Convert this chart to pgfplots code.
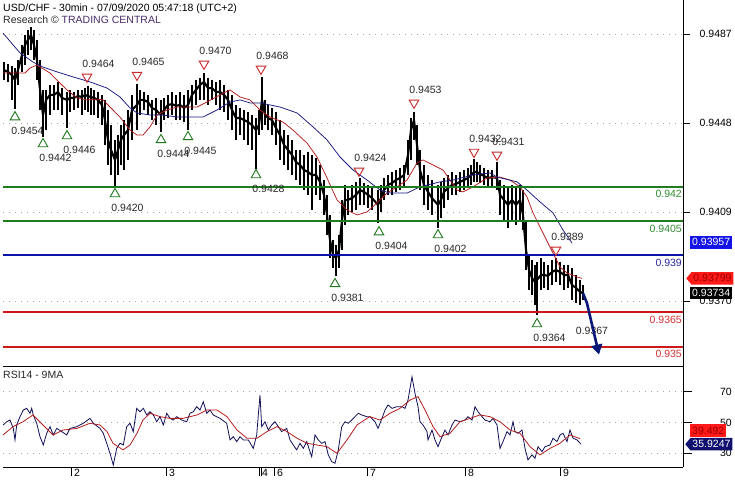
\documentclass[border=0pt]{standalone}
\usepackage{pgfplots}
\pgfplotsset{compat=1.18}
\usepackage{pgfplotstable}
\usepackage{fontspec}
\setmainfont{Liberation Sans}
\usetikzlibrary{shapes.symbols,arrows.meta}
\definecolor{lvgreen}{RGB}{30,125,30}
\definecolor{lvblue}{RGB}{10,20,170}
\definecolor{lvred}{RGB}{205,25,25}
\definecolor{lvgreentxt}{RGB}{50,140,50}
\definecolor{lvbluetxt}{RGB}{40,40,160}
\definecolor{lvredtxt}{RGB}{210,50,50}
\definecolor{manavy}{RGB}{25,25,130}
\definecolor{mared}{RGB}{180,30,30}
\definecolor{rsinavy}{RGB}{15,15,90}
\definecolor{lbl}{RGB}{40,40,40}
\definecolor{tcpurple}{RGB}{75,45,105}
\definecolor{arrownavy}{RGB}{10,25,120}
\definecolor{boxblue}{RGB}{20,20,230}
\definecolor{boxred}{RGB}{255,25,25}
\definecolor{boxredtxt}{RGB}{150,0,0}
\definecolor{boxnavy}{RGB}{15,15,110}
\definecolor{triG}{RGB}{30,120,30}
\definecolor{triR}{RGB}{200,40,40}
\newcommand\lf{\fontsize{10.5}{12}\selectfont}

% price bars: x (position), low, high, close
\pgfplotstableread{
x lo hi c
4 0.94668 0.94747 0.94712
8 0.94660 0.94739 0.94704
12 0.94581 0.94730 0.94690
15 0.94540 0.94721 0.94668
18 0.94647 0.94756 0.94712
22 0.94704 0.94822 0.94778
25 0.94734 0.94866 0.94822
28 0.94778 0.94888 0.94844
31 0.94800 0.94901 0.94866
34 0.94756 0.94888 0.94822
37 0.94668 0.94844 0.94756
40 0.94537 0.94756 0.94625
43 0.94420 0.94625 0.94515
46 0.94449 0.94625 0.94581
50 0.94515 0.94647 0.94603
54 0.94537 0.94647 0.94603
58 0.94537 0.94660 0.94616
62 0.94515 0.94633 0.94590
67 0.94460 0.94616 0.94581
70 0.94528 0.94625 0.94590
74 0.94537 0.94616 0.94590
78 0.94546 0.94625 0.94598
82 0.94515 0.94625 0.94594
85 0.94537 0.94633 0.94603
88 0.94528 0.94640 0.94598
91 0.94515 0.94633 0.94594
94 0.94515 0.94625 0.94590
98 0.94502 0.94616 0.94581
102 0.94471 0.94603 0.94559
105 0.94384 0.94581 0.94493
108 0.94296 0.94537 0.94406
111 0.94252 0.94471 0.94362
115 0.94200 0.94406 0.94318
118 0.94252 0.94427 0.94362
121 0.94296 0.94471 0.94406
124 0.94274 0.94493 0.94427
128 0.94318 0.94537 0.94449
132 0.94406 0.94603 0.94537
137 0.94449 0.94650 0.94559
140 0.94515 0.94625 0.94581
144 0.94537 0.94616 0.94581
148 0.94515 0.94603 0.94572
152 0.94493 0.94581 0.94546
156 0.94471 0.94590 0.94537
161 0.94440 0.94581 0.94515
164 0.94493 0.94590 0.94537
168 0.94502 0.94603 0.94559
172 0.94515 0.94616 0.94563
176 0.94493 0.94603 0.94555
180 0.94493 0.94616 0.94559
184 0.94484 0.94603 0.94546
188 0.94450 0.94625 0.94559
192 0.94537 0.94647 0.94603
196 0.94559 0.94668 0.94625
200 0.94581 0.94677 0.94647
204 0.94581 0.94700 0.94660
208 0.94559 0.94677 0.94633
212 0.94581 0.94668 0.94633
216 0.94559 0.94660 0.94616
220 0.94537 0.94668 0.94616
224 0.94528 0.94647 0.94603
228 0.94493 0.94625 0.94581
232 0.94449 0.94603 0.94537
236 0.94406 0.94559 0.94502
240 0.94427 0.94546 0.94502
244 0.94406 0.94537 0.94493
248 0.94384 0.94528 0.94484
252 0.94362 0.94515 0.94471
256 0.94280 0.94502 0.94449
259 0.94427 0.94537 0.94471
262 0.94449 0.94680 0.94581
265 0.94471 0.94581 0.94515
268 0.94449 0.94559 0.94502
272 0.94427 0.94546 0.94493
276 0.94384 0.94528 0.94458
280 0.94318 0.94493 0.94427
284 0.94296 0.94449 0.94384
288 0.94274 0.94427 0.94362
292 0.94252 0.94406 0.94340
296 0.94230 0.94362 0.94309
300 0.94208 0.94362 0.94296
304 0.94186 0.94340 0.94274
308 0.94165 0.94353 0.94265
312 0.94099 0.94340 0.94252
316 0.94165 0.94327 0.94252
320 0.94143 0.94296 0.94222
324 0.94077 0.94230 0.94165
327 0.93989 0.94165 0.94077
330 0.93888 0.94077 0.93967
333 0.93845 0.93967 0.93902
336 0.93810 0.93945 0.93888
339 0.93845 0.93989 0.93924
342 0.93924 0.94143 0.94055
345 0.94033 0.94208 0.94143
348 0.94077 0.94186 0.94143
352 0.94090 0.94208 0.94151
356 0.94099 0.94222 0.94165
360 0.94121 0.94240 0.94186
364 0.94121 0.94217 0.94178
368 0.94108 0.94208 0.94165
372 0.94099 0.94195 0.94151
378 0.94040 0.94186 0.94121
381 0.94090 0.94208 0.94151
384 0.94143 0.94239 0.94186
388 0.94165 0.94252 0.94208
392 0.94165 0.94265 0.94217
396 0.94178 0.94274 0.94230
400 0.94186 0.94283 0.94239
404 0.94195 0.94296 0.94252
408 0.94252 0.94406 0.94340
411 0.94318 0.94502 0.94449
414 0.94406 0.94530 0.94493
417 0.94296 0.94471 0.94384
420 0.94186 0.94362 0.94274
424 0.94121 0.94296 0.94208
428 0.94099 0.94252 0.94178
432 0.94077 0.94230 0.94151
438 0.94020 0.94208 0.94121
441 0.94064 0.94222 0.94143
444 0.94108 0.94239 0.94178
448 0.94143 0.94252 0.94195
452 0.94165 0.94265 0.94208
456 0.94165 0.94252 0.94213
460 0.94178 0.94265 0.94222
464 0.94186 0.94274 0.94230
468 0.94195 0.94283 0.94239
471 0.94208 0.94296 0.94252
474 0.94222 0.94320 0.94265
477 0.94222 0.94309 0.94265
480 0.94217 0.94296 0.94257
484 0.94208 0.94283 0.94248
488 0.94195 0.94274 0.94239
492 0.94204 0.94274 0.94243
497 0.94186 0.94310 0.94239
500 0.94077 0.94230 0.94165
504 0.94046 0.94208 0.94143
508 0.94020 0.94195 0.94121
512 0.94055 0.94208 0.94143
516 0.94033 0.94195 0.94121
520 0.94046 0.94208 0.94143
523 0.94011 0.94186 0.94077
526 0.93836 0.94055 0.93924
529 0.93748 0.93902 0.93836
532 0.93726 0.93880 0.93801
535 0.93683 0.93858 0.93783
537 0.93640 0.93871 0.93792
541 0.93748 0.93888 0.93814
544 0.93757 0.93871 0.93814
548 0.93748 0.93858 0.93810
552 0.93770 0.93880 0.93827
556 0.93783 0.93890 0.93836
560 0.93770 0.93871 0.93827
564 0.93748 0.93858 0.93814
568 0.93757 0.93858 0.93814
572 0.93704 0.93845 0.93770
576 0.93691 0.93814 0.93757
580 0.93683 0.93792 0.93740
583 0.93704 0.93770 0.93734
}\bars

\pgfplotstableread{
x y
3 0.94699
25 0.94699
30 0.94721
37 0.94734
50 0.94699
57 0.94668
67 0.94625
77 0.94590
87 0.94581
97 0.94585
103 0.94581
110 0.94550
120 0.94506
130 0.94449
137 0.94427
143 0.94427
150 0.94463
157 0.94515
167 0.94537
177 0.94550
197 0.94550
207 0.94572
220 0.94603
230 0.94625
240 0.94594
250 0.94581
260 0.94537
270 0.94506
283 0.94484
293 0.94449
307 0.94392
317 0.94331
327 0.94239
337 0.94143
347 0.94099
357 0.94077
367 0.94090
377 0.94130
387 0.94173
397 0.94200
407 0.94230
417 0.94305
423 0.94318
433 0.94296
443 0.94274
457 0.94186
463 0.94178
473 0.94200
487 0.94239
500 0.94243
510 0.94230
520 0.94200
527 0.94156
533 0.94086
543 0.93998
553 0.93910
560 0.93849
567 0.93823
577 0.93805
582 0.93799
}\mafast

\pgfplotstableread{
x y
3 0.94874
20 0.94787
33 0.94747
43 0.94725
57 0.94704
73 0.94682
90 0.94660
107 0.94633
120 0.94594
130 0.94546
137 0.94524
150 0.94515
163 0.94515
177 0.94506
203 0.94506
217 0.94537
230 0.94572
240 0.94581
250 0.94568
260 0.94568
280 0.94550
297 0.94524
313 0.94463
327 0.94406
340 0.94331
353 0.94274
367 0.94230
380 0.94186
390 0.94173
407 0.94173
420 0.94200
440 0.94222
453 0.94230
473 0.94252
490 0.94261
497 0.94243
517 0.94222
527 0.94186
540 0.94134
553 0.94086
563 0.94011
572 0.93954
}\maslow

\pgfplotstableread{
x y lab
15 0.94506 0.9454
43 0.94388 0.9442
67 0.94423 0.9446
115 0.94169 0.9420
161 0.94406 0.9444
188 0.94419 0.9445
256 0.94252 0.9428
335 0.93775 0.9381
379 0.94002 0.9404
438 0.93989 0.9402
537 0.93599 0.9364
}\lows

\pgfplotstableread{
x y lab
87 0.94682 0.9464
137 0.94690 0.9465
204 0.94739 0.9470
261 0.94717 0.9468
359 0.94270 0.9424
414 0.94568 0.9453
474 0.94353 0.9432
497 0.94340 0.9431
556 0.93924 0.9389
}\highs

\pgfplotstableread{
x y
3.3 48.4
6.7 50.5
10 51.6
13.3 46.2
15 38.7
16.7 48.4
20 53.8
23.3 58.1
26.7 59.2
30 56
31.7 59.2
33.3 54.9
36.7 49.5
40 40.8
43.3 35.4
46.7 43
50 47.3
53.3 41.9
56.7 46.2
61.7 44.1
66.7 41.9
70 46.2
76.7 47.3
83.3 49.5
90 52.7
93.3 49.5
100 46.2
103.3 43
106.7 36.5
110 30
113.3 22.4
116.7 33.2
120 36.5
123.3 35.4
126.7 47.3
130 49.5
133.3 44.1
136.7 59.2
140 57
143.3 59.2
146.7 54.9
150 57
153.3 54.9
156.7 50.5
160 53.8
163.3 48.4
166.7 56
170 52.7
173.3 51.6
176.7 53.8
181.7 51.6
186.7 50.5
190 56
193.3 57
196.7 60.3
200 58.1
203.3 63.5
206.7 56
210 58.1
213.3 54.9
220 52.7
226.7 49.5
230 38.7
233.3 40.8
236.7 37.6
240 40.8
243.3 38.7
248.3 38.7
253.3 33.2
256.7 41.9
258.3 54.9
260 67.8
261.7 47.3
265 50.5
268.3 45.1
271.7 48.4
275 50.5
278.3 47.3
281.7 44.1
286.7 46.2
290 38.7
293.3 35.4
296.7 32.2
300 36.5
303.3 33.2
306.7 37.6
311.7 27.8
315 41.9
318.3 38.7
321.7 36.5
325 37.6
328.3 29
331.7 24.6
335 23.5
338.3 32.2
341.7 47.3
345 50.5
348.3 49.5
351.7 51.6
355 53.8
358.3 56
361.7 54.9
366.7 53.8
370 53.8
375 50.5
378 46.2
382 52.7
385 58.1
388 61.4
392 59.2
397 60.3
402 60.3
405 59.2
408 64.6
412 79.7
415 68.9
418 60.3
420 50.5
423 48.4
427 44.1
428 38.7
432 45.1
435 38.7
438 34.3
442 40.8
445 45.1
448 41.9
452 48.4
455 51.6
460 50.5
465 51.6
468 53.8
472 51.6
475 60.3
478 57
482 53.8
485 51.6
490 50.5
493 52.7
497 48.4
500 33.2
503 37.6
507 44.1
510 41.9
513 50.5
515 44.1
518 43
522 45.1
525 33.2
528 25.7
532 29
535 26.8
538 34.3
542 31.1
545 34.3
550 35.4
553 39.8
557 37.6
560 41.9
563 43
567 37.6
570 45.1
573 39.8
577 38.7
581 35.9
}\rsi

\pgfplotstableread{
x y
3 41.9
13 47.3
23 50.5
33 54.9
43 48.4
53 41.9
63 45.1
77 46.2
90 49.5
100 48.4
107 44.1
113 36.5
123 32.2
130 35.4
137 43
143 51.6
150 56
160 53.8
170 52.7
183 52.7
197 54.9
207 58.1
217 58.1
227 53.8
237 45.1
247 39.8
257 39.8
267 44.1
277 47.3
287 44.1
297 39.8
307 36.5
317 35.4
327 34.3
337 30
347 38.7
357 48.4
367 52.7
370 53.8
380 51.6
390 56
400 59.2
410 64.6
418 66.8
425 58.1
433 47.3
440 40.8
450 43
460 50.5
470 52.7
480 54.9
490 53.8
500 50.5
510 45.1
520 43
530 34.3
540 29
550 33.2
560 36.5
570 41.9
580 39.5
}\rsima

\begin{document}
\begin{tikzpicture}[x=1pt,y=1pt]
\useasboundingbox (0,0) rectangle (735,480);
\fill[white] (0,0) rectangle (735,480);

% ---------- main price panel ----------
\begin{axis}[
  at={(3pt,114pt)}, anchor=south west,
  scale only axis, width=680pt, height=366pt,
  xmin=3, xmax=683, ymin=0.93415, ymax=0.95019,
  axis x line*=bottom, axis y line*=right,
  axis line style={-, line width=1pt, black},
  xtick=\empty,
  ytick={0.937,0.9409,0.9448,0.9487},
  yticklabels={0.9370,0.9409,0.9448,0.9487},
  tick align=outside, major tick length=7pt,
  ytick style={black, line width=0.8pt},
  yticklabel style={anchor=east, inner sep=0pt, xshift=42pt, font=\lf, text=black},
  ymajorgrids, major grid style={gray!70, line width=0.7pt, dash pattern=on 0.7pt off 5.3pt},
  clip=false,
  /pgf/number format/assume math mode=true,
]
% price bars (high-low) and close
\addplot[black, line width=2.1pt, mark=none, line join=round,
  error bars/.cd, y dir=both, y explicit, error mark=none,
  error bar style={black, line width=1.35pt}]
  table[x=x, y=c, y error plus expr={\thisrow{hi}-\thisrow{c}}, y error minus expr={\thisrow{c}-\thisrow{lo}}] {\bars};
% moving averages
\addplot[mared, line width=0.75pt, mark=none] table[x=x,y=y] {\mafast};
\addplot[manavy, line width=0.75pt, mark=none] table[x=x,y=y] {\maslow};
% support / resistance levels
\addplot[lvgreen, line width=1.8pt, mark=none] coordinates {(3,0.942) (683,0.942)};
\addplot[lvgreen, line width=1.8pt, mark=none] coordinates {(3,0.9405) (683,0.9405)};
\addplot[lvblue, line width=1.8pt, mark=none] coordinates {(3,0.939) (683,0.939)};
\addplot[lvred, line width=2pt, mark=none] coordinates {(3,0.9365) (683,0.9365)};
\addplot[lvred, line width=2pt, mark=none] coordinates {(3,0.935) (683,0.935)};
\node[anchor=east, inner sep=0pt, font=\lf, text=lvgreentxt] at (axis cs:682,0.942) [yshift=-7.5pt] {0.942};
\node[anchor=east, inner sep=0pt, font=\lf, text=lvgreentxt] at (axis cs:682,0.9405) [yshift=-7.5pt] {0.9405};
\node[anchor=east, inner sep=0pt, font=\lf, text=lvbluetxt] at (axis cs:682,0.939) [yshift=-7.5pt] {0.939};
\node[anchor=east, inner sep=0pt, font=\lf, text=lvredtxt] at (axis cs:682,0.9365) [yshift=-7.5pt] {0.9365};
\node[anchor=east, inner sep=0pt, font=\lf, text=lvredtxt] at (axis cs:682,0.935) [yshift=-7.5pt] {0.935};
% pivot lows
\addplot[only marks, mark=triangle, mark size=5.5pt,
  mark options={draw=triG, fill=white, line width=0.9pt},
  point meta=explicit symbolic, nodes near coords,
  every node near coord/.append style={anchor=west, inner sep=0pt, xshift=-4pt, yshift=-14pt, font=\lf, text=lbl}]
  table[x=x, y=y, meta=lab] {\lows};
% pivot highs
\addplot[only marks, mark=triangle, mark size=5.5pt,
  mark options={draw=triR, fill=white, line width=0.9pt, rotate=180},
  point meta=explicit symbolic, nodes near coords,
  every node near coord/.append style={anchor=west, inner sep=0pt, xshift=-5pt, yshift=13pt, font=\lf, text=lbl}]
  table[x=x, y=y, meta=lab] {\highs};
% projection
\node[anchor=center, inner sep=0pt, font=\lf, text=lbl] at (axis cs:592,0.93569) {0.9367};
\addplot[arrownavy, line width=2.6pt, mark=none, -{Triangle[length=10pt,width=11pt]}]
  coordinates {(583,0.93734) (587,0.93690) (599,0.93465)};
% right-hand value boxes
\node[fill=boxblue, text=white, anchor=west, inner xsep=2pt, inner ysep=2.5pt, font=\lf, xshift=7pt] at (axis cs:683,0.93957) {0.93957};
\node[signal, signal to=west, signal pointer angle=100, fill=boxred, text=boxredtxt, anchor=west, inner xsep=2pt, inner ysep=2.5pt, font=\lf, xshift=3pt] at (axis cs:683,0.93799) {0.93799};
\node[fill=black, text=white, anchor=west, inner xsep=2pt, inner ysep=2.5pt, font=\lf, xshift=7pt] at (axis cs:683,0.93734) {0.93734};
\end{axis}

% ---------- RSI panel ----------
\begin{axis}[
  at={(3pt,13pt)}, anchor=south west,
  scale only axis, width=680pt, height=101pt,
  xmin=3, xmax=683, ymin=21.1, ymax=86.7,
  axis x line*=bottom, axis y line*=right,
  axis line style={-, line width=1pt, black},
  xtick={71,166,259,261,274,367,465,560},
  xticklabels={2,3,4,,6,7,8,9},
  ytick={30,50,70},
  tick align=outside, major tick length=9pt,
  tick style={black, line width=0.8pt},
  xticklabel style={anchor=west, inner sep=0pt, xshift=3pt, yshift=3pt, font=\lf, text=black},
  yticklabel style={anchor=east, inner sep=0pt, xshift=40pt, font=\lf, text=black},
  ymajorgrids, major grid style={gray!70, line width=0.7pt, dash pattern=on 0.7pt off 5.3pt},
  clip=false,
  /pgf/number format/assume math mode=true,
]
\addplot[rsinavy, line width=0.8pt, mark=none] table[x=x,y=y] {\rsi};
\addplot[mared, line width=0.8pt, mark=none] table[x=x,y=y] {\rsima};
\node[fill=boxred, text=boxredtxt, anchor=west, inner xsep=2pt, inner ysep=2.5pt, font=\lf, xshift=7pt, yshift=8pt] at (axis cs:683,39.492) {39.492};
\node[signal, signal to=west, signal pointer angle=100, fill=boxnavy, text=white, anchor=west, inner xsep=2pt, inner ysep=2.5pt, font=\lf, xshift=2pt] at (axis cs:683,35.9247) {35.9247};
\end{axis}

% titles
\node[anchor=base west, inner sep=0pt, font=\lf, text=black] at (3,468.5) {USD/CHF - 30min - 07/09/2020 05:47:18 (UTC+2)};
\node[anchor=base west, inner sep=0pt, font=\lf] at (3,456) {\textcolor{lbl}{Research © }\textcolor{tcpurple}{TRADING CENTRAL}};
\node[anchor=base west, inner sep=0pt, font=\lf, text=lbl] at (3,102) {RSI14 - 9MA};
\end{tikzpicture}
\end{document}
